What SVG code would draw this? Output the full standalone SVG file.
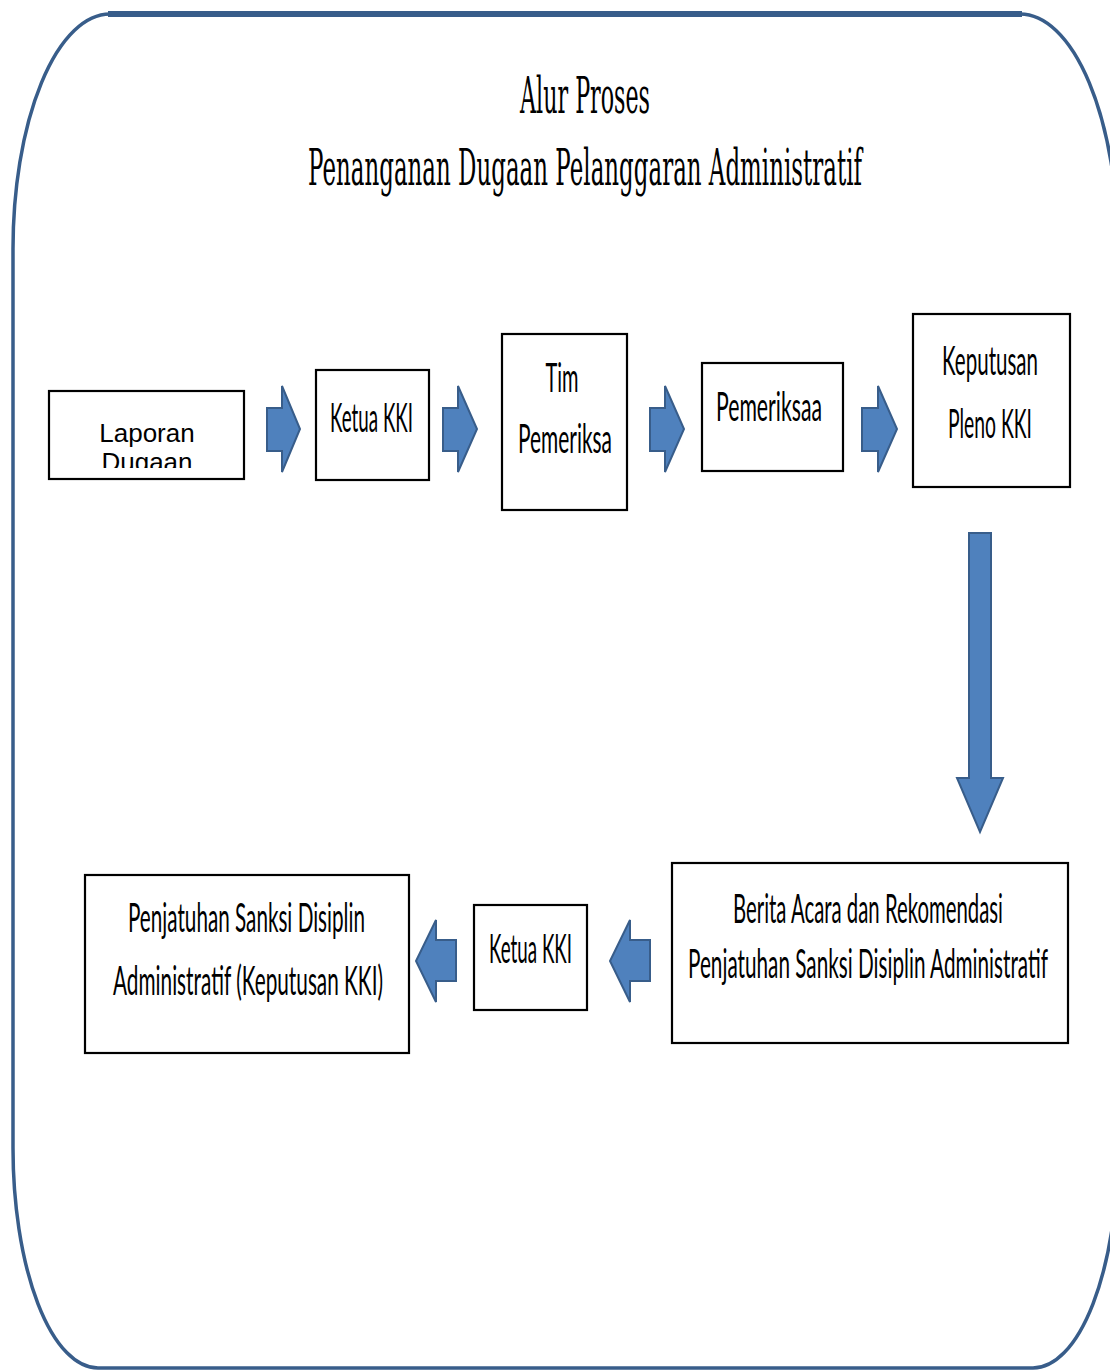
<svg xmlns="http://www.w3.org/2000/svg" width="1110" height="1371" viewBox="0 0 1110 1371">
<style>
.box{fill:#fff;stroke:#000;stroke-width:2.2}
.arr{fill:#4F81BD;stroke:#385D8A;stroke-width:2;stroke-linejoin:miter}
.t{font-family:Lato,"Open Sans","Liberation Sans",sans-serif;font-size:20px;fill:#000;text-anchor:middle}
.tt{font-family:"DejaVu Serif","Liberation Serif",serif;font-size:25px;fill:#000;text-anchor:middle}
.ar{font-family:"Liberation Sans",Arial,sans-serif;font-size:26px;fill:#000;text-anchor:middle}
</style>
<defs>
<clipPath id="clipLap"><rect x="50" y="392" width="193" height="76"/></clipPath>
</defs>
<rect x="0" y="0" width="1110" height="1371" fill="#fff"/>
<g id="frame">
<path d="M110,14 H1020 A98,235 0 0 1 1118,249 V1148 A85,220 0 0 1 1033,1368 H98 A85,220 0 0 1 13,1148 V249 A97,235 0 0 1 110,14 Z" fill="none" stroke="#385D8A" stroke-width="3.5"/>
<line x1="108" y1="14" x2="1022" y2="14" stroke="#385D8A" stroke-width="6"/>
</g>
<g id="title">
<text class="tt" transform="translate(585,113) scale(1,2)" textLength="130" lengthAdjust="spacingAndGlyphs">Alur Proses</text>
<text class="tt" transform="translate(585,185) scale(1,2)" textLength="554" lengthAdjust="spacingAndGlyphs">Penanganan Dugaan Pelanggaran Administratif</text>
</g>
<g id="connectors">
<polygon class="arr" points="267,408 282,408 282,386 300,429 282,472 282,451 267,451"/>
<polygon class="arr" points="443,408 458,408 458,386 477,429 458,472 458,451 443,451"/>
<polygon class="arr" points="650,408 665,408 665,386 684,429 665,472 665,451 650,451"/>
<polygon class="arr" points="862,408 878,408 878,386 897,429 878,472 878,451 862,451"/>
<polygon class="arr" points="969,533 991,533 991,778 1003,778 980,832 957,778 969,778"/>
<polygon class="arr" points="456,940 436,940 436,920 416,961 436,1002 436,981 456,981"/>
<polygon class="arr" points="650,940 630,940 630,920 610,961 630,1002 630,981 650,981"/>
</g>
<g id="n-laporan">
<rect class="box" x="49" y="391" width="195" height="88"/>
<g clip-path="url(#clipLap)">
<text class="ar" x="147" y="442">Laporan</text>
<text class="ar" x="147" y="471">Dugaan</text>
</g>
</g>
<g id="n-ketua1">
<rect class="box" x="316" y="370" width="113" height="110"/>
<text class="t" transform="translate(371.5,432) scale(1,2)" textLength="83" lengthAdjust="spacingAndGlyphs">Ketua KKI</text>
</g>
<g id="n-tim">
<rect class="box" x="502" y="334" width="125" height="176"/>
<text class="t" transform="translate(562,392) scale(1,2)" textLength="33" lengthAdjust="spacingAndGlyphs">Tim</text>
<text class="t" transform="translate(565,453) scale(1,2)" textLength="94" lengthAdjust="spacingAndGlyphs">Pemeriksa</text>
</g>
<g id="n-pemeriksaan">
<rect class="box" x="702" y="363" width="141" height="108"/>
<text class="t" transform="translate(769,421) scale(1,2)" textLength="106" lengthAdjust="spacingAndGlyphs">Pemeriksaa</text>
</g>
<g id="n-keputusan">
<rect class="box" x="913" y="314" width="157" height="173"/>
<text class="t" transform="translate(990,375) scale(1,2)" textLength="96" lengthAdjust="spacingAndGlyphs">Keputusan</text>
<text class="t" transform="translate(990,438) scale(1,2)" textLength="84" lengthAdjust="spacingAndGlyphs">Pleno KKI</text>
</g>
<g id="n-berita">
<rect class="box" x="672" y="863" width="396" height="180"/>
<text class="t" transform="translate(868,923) scale(1,2)" textLength="270" lengthAdjust="spacingAndGlyphs">Berita Acara dan Rekomendasi</text>
<text class="t" transform="translate(868,978) scale(1,2)" textLength="360" lengthAdjust="spacingAndGlyphs">Penjatuhan Sanksi Disiplin Administratif</text>
</g>
<g id="n-ketua2">
<rect class="box" x="474" y="905" width="113" height="105"/>
<text class="t" transform="translate(530.5,963) scale(1,2)" textLength="83" lengthAdjust="spacingAndGlyphs">Ketua KKI</text>
</g>
<g id="n-penjatuhan">
<rect class="box" x="85" y="875" width="324" height="178"/>
<text class="t" transform="translate(246.5,932) scale(1,2)" textLength="237" lengthAdjust="spacingAndGlyphs">Penjatuhan Sanksi Disiplin</text>
<text class="t" transform="translate(248,995) scale(1,2)" textLength="270" lengthAdjust="spacingAndGlyphs">Administratif (Keputusan KKI)</text>
</g>
</svg>
